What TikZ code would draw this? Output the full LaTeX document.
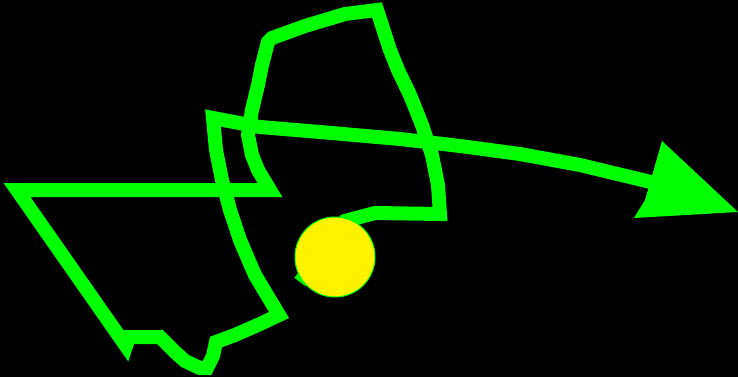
\documentclass[tikz,border=0pt]{standalone}
\begin{document}
\begin{tikzpicture}[x=1pt,y=-1pt,
  trail/.style={draw={rgb,255:red,0;green,255;blue,0},line width=14pt,line join=miter,miter limit=2.5},
  tiphead/.style={fill={rgb,255:red,0;green,255;blue,0}},
  sun/.style={circle,fill=yellow,draw={rgb,255:red,0;green,255;blue,0},line width=1pt,minimum size=80pt,inner sep=0pt}]
\fill[black] (0,0) rectangle (738,377);
\useasboundingbox (0,0) rectangle (738,377);
\draw[trail] (300,282) -- (345,221) -- (375,213) -- (440,214) -- (438,185) -- (432,155) -- (422,125)
  -- (410,95) -- (398,70) -- (390,50) -- (377,10) -- (345,14) -- (305,26) -- (272,38) -- (268,42)
  -- (262,65) -- (258,85) -- (252,110) -- (248,135) -- (252,155) -- (258,170) -- (270,190)
  -- (17,190) -- (126,346) -- (129,337) -- (160,337) -- (175,352) -- (185,361) -- (200,368)
  -- (207,368) -- (213,356) -- (216,342) -- (235,335) -- (260,324) -- (279,315) -- (270,300)
  -- (255,275) -- (240,240) -- (230,210) -- (222,180) -- (216,150) -- (213,118) -- (260,127)
  -- (320,132) -- (400,139) -- (460,146) -- (520,154) -- (580,165) -- (655,183);
\fill[tiphead] (662,141) -- (738,212) -- (634,218) -- (645,200) -- cycle;
\node[sun] (s) at (335,257) {};
\end{tikzpicture}
\end{document}
